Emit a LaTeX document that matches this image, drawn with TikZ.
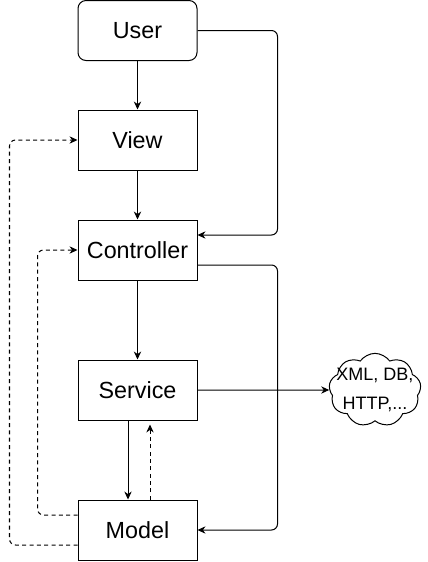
\documentclass[tikz,border=0pt]{standalone}
\usepackage{fontspec}
\setmainfont{Liberation Sans}
\usetikzlibrary{arrows.meta,positioning,shapes.symbols}
\tikzstyle{layer} = [
  draw,
  rectangle,
  line width=0.75pt,
  minimum width=89.25pt,
  minimum height=45pt,
  inner sep=0pt,
  font=\fontsize{17.5}{20}\selectfont,
  ]
\tikzstyle{flow} = [
  -{Stealth[length=6pt,width=5.5pt]},
  line width=0.75pt,
  rounded corners=4.5pt,
  ]
\tikzstyle{back} = [flow, dash pattern=on 3pt off 2.5pt]

\begin{document}
\begin{tikzpicture}[x=0.75pt,y=-0.75pt]
  \useasboundingbox (0,0) rectangle (428,562);
  \node[layer, rounded corners=6pt] (user) at (137.5,30.5) {User};
  \node[layer] (view) at (137.5,140) {View};
  \node[layer] (ctrl) at (137.5,250) {Controller};
  \node[layer] (serv) at (137.5,390) {Service};
  \node[layer] (model) at (137.5,530) {Model};
  \node[cloud, draw, line width=0.75pt, cloud puffs=9, cloud puff arc=110,
    aspect=1.4, inner xsep=-6pt, inner ysep=-3pt,
    align=center, font=\fontsize{13.5}{21.5}\selectfont]
    (store) at (375,390) {XML, DB,\\HTTP,...};

  % main flow
  \draw[flow] (user) -- (view);
  \draw[flow] (view) -- (ctrl);
  \draw[flow] (user.east) -- ++(80,0) |- ([shift={(0,-15)}]ctrl.east);
  \draw[flow] ([shift={(0,15)}]ctrl.east) -- ++(80,0) |- (model.east);
  \draw[flow] (ctrl) -- (serv);
  \draw[flow] (serv.east) -- (store.west);
  \draw[flow] ([shift={(-9.5,0)}]serv.south) -- ([shift={(-9.5,0)}]model.north);

  % updates going back
  \draw[back, shorten >=3pt] ([shift={(12.5,0)}]model.north) -- ([shift={(12.5,0)}]serv.south);
  \draw[back] ([shift={(0,-15)}]model.west) -- ++(-40,0) |- (ctrl.west);
  \draw[back] ([shift={(0,15)}]model.west) -- ++(-68,0) |- (view.west);
\end{tikzpicture}
\end{document}
